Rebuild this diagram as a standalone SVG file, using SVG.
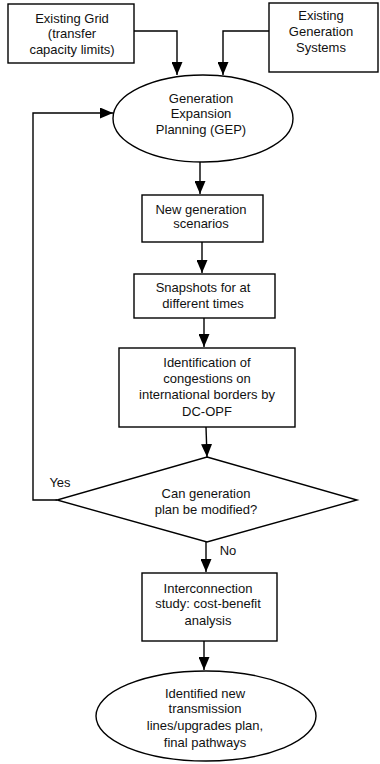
<svg xmlns="http://www.w3.org/2000/svg" width="380" height="764" viewBox="0 0 380 764">
<style>
.n{fill:#fff;stroke:#000;stroke-width:1.4}
.t{font-family:"Liberation Sans",Arial,sans-serif;font-size:13px;fill:#111;text-anchor:middle}
.c{fill:none;stroke:#000;stroke-width:1.4}
</style>
<defs>
<marker id="ah" viewBox="0 0 13 11" refX="13" refY="5.5" markerWidth="13" markerHeight="11" markerUnits="userSpaceOnUse" orient="auto">
<path d="M0,0 L13,5.5 L0,11 z" fill="#000"/>
</marker>
</defs>
<rect width="380" height="764" fill="#fff"/>
<g id="connectors">
<polyline class="c" points="134,31 177,31 177,75" marker-end="url(#ah)"/>
<polyline class="c" points="269,31 223,31 223,75" marker-end="url(#ah)"/>
<line class="c" x1="200" y1="162" x2="200" y2="194" marker-end="url(#ah)"/>
<line class="c" x1="202" y1="242" x2="202" y2="273" marker-end="url(#ah)"/>
<line class="c" x1="204" y1="318" x2="204" y2="347" marker-end="url(#ah)"/>
<line class="c" x1="206" y1="427" x2="207" y2="457" marker-end="url(#ah)"/>
<polyline class="c" points="57,500 33,500 33,113 113,113" marker-end="url(#ah)"/>
<line class="c" x1="206" y1="542" x2="206" y2="572" marker-end="url(#ah)"/>
<line class="c" x1="204" y1="641" x2="204" y2="670" marker-end="url(#ah)"/>
<text class="t" x="60" y="487">Yes</text>
<text class="t" x="228" y="555">No</text>
</g>
<g id="existing-grid">
<rect class="n" x="8" y="4" width="126" height="59"/>
<text class="t" x="72" y="23">Existing Grid</text>
<text class="t" x="72" y="38">(transfer</text>
<text class="t" x="72" y="54">capacity limits)</text>
</g>
<g id="existing-generation">
<rect class="n" x="269" y="3" width="109" height="69"/>
<text class="t" x="321" y="20">Existing</text>
<text class="t" x="321" y="36">Generation</text>
<text class="t" x="321" y="52">Systems</text>
</g>
<g id="gep">
<ellipse class="n" cx="203" cy="118.5" rx="90" ry="43.5"/>
<text class="t" x="201" y="103">Generation</text>
<text class="t" x="201" y="118">Expansion</text>
<text class="t" x="201" y="134">Planning  (GEP)</text>
</g>
<g id="new-generation">
<rect class="n" x="142" y="195" width="121" height="47"/>
<text class="t" x="201" y="214">New generation</text>
<text class="t" x="201" y="228">scenarios</text>
</g>
<g id="snapshots">
<rect class="n" x="134" y="274" width="141" height="44"/>
<text class="t" x="203" y="292">Snapshots  for at</text>
<text class="t" x="203" y="308">different times</text>
</g>
<g id="identification">
<rect class="n" x="119" y="348" width="176" height="79"/>
<text class="t" x="207" y="367">Identification  of</text>
<text class="t" x="207" y="383">congestions  on</text>
<text class="t" x="207" y="399">international  borders  by</text>
<text class="t" x="207" y="416">DC-OPF</text>
</g>
<g id="decision">
<polygon class="n" points="207,457 357,500 207,542 57,500"/>
<text class="t" x="206" y="498">Can generation</text>
<text class="t" x="206" y="514">plan be  modified?</text>
</g>
<g id="interconnection">
<rect class="n" x="142" y="573" width="135" height="68"/>
<text class="t" x="208" y="593">Interconnection</text>
<text class="t" x="208" y="608">study: cost-benefit</text>
<text class="t" x="208" y="625">analysis</text>
</g>
<g id="final">
<ellipse class="n" cx="206" cy="716" rx="110" ry="45"/>
<text class="t" x="205" y="698">Identified  new</text>
<text class="t" x="205" y="713">transmission</text>
<text class="t" x="205" y="730">lines/upgrades  plan,</text>
<text class="t" x="205" y="747">final pathways</text>
</g>
</svg>
